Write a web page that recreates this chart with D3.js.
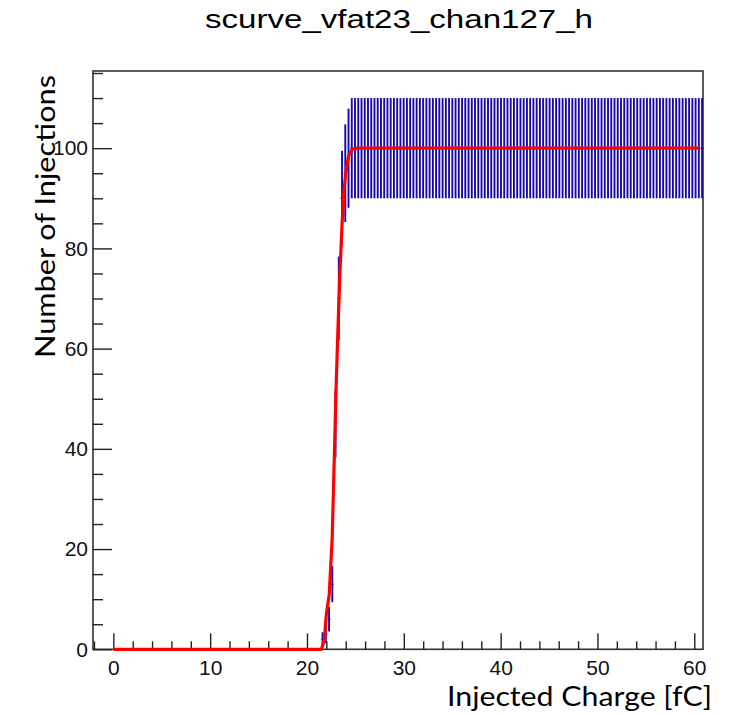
<!DOCTYPE html>
<html>
<head>
<meta charset="utf-8">
<script src="https://cdn.jsdelivr.net/npm/d3@7"></script>
<style>
    html, body { margin: 0; padding: 0; background: #fff; }
    svg { display: block; }
</style>
</head>
<body>
<div id="chart"></div>
<script>
// Histogram binning, in fC
const binStart = 0.17;
const binWidth = 0.335;

// Entries per bin
const counts = [
    0, 0, 0, 0, 0, 0, 0, 0, 0, 0, 0, 0, 0, 0, 0, 0,
    0, 0, 0, 0, 0, 0, 0, 0, 0, 0, 0, 0, 0, 0, 0, 0,
    0, 0, 0, 0, 0, 0, 0, 0, 0, 0, 0, 0, 0, 0, 0, 0,
    0, 0, 0, 0, 0, 0, 0, 0, 0, 0, 0, 0, 0, 0, 0, 0,
    2, 3, 6, 13, 45, 70, 90, 95, 98,
    100, 100, 100, 100, 100, 100, 100, 100, 100, 100, 100, 100, 100, 100, 100, 100, 100, 100, 100, 100,
    100, 100, 100, 100, 100, 100, 100, 100, 100, 100, 100, 100, 100, 100, 100, 100, 100, 100, 100, 100,
    100, 100, 100, 100, 100, 100, 100, 100, 100, 100, 100, 100, 100, 100, 100, 100, 100, 100, 100, 100,
    100, 100, 100, 100, 100, 100, 100, 100, 100, 100, 100, 100, 100, 100, 100, 100, 100, 100, 100, 100,
    100, 100, 100, 100, 100, 100, 100, 100, 100, 100, 100, 100, 100, 100, 100, 100, 100, 100, 100, 100,
    100, 100, 100, 100, 100, 100, 100, 100, 100
];

// Fitted s-curve (charge, injections)
const fitPoints = [
    [0, 0], [21.5, 0], [21.8, 2], [22.0, 7], [22.3, 11], [22.6, 22], [22.9, 44],
    [23.0, 52], [23.2, 64], [23.4, 75], [23.6, 84], [23.8, 91], [24.0, 95],
    [24.3, 98.5], [24.7, 99.8], [25.2, 100], [60.5, 100]
];

const xMajorTicks = [0, 10, 20, 30, 40, 50, 60];
const yMajorTicks = [0, 20, 40, 60, 80, 100];

const titleText = "scurve_vfat23_chan127_h";
const xTitle = "Injected Charge [fC]";
const yTitle = "Number of Injections";

/**
 * Build the plot
 */
function drawChart() {
    const width = 730;
    const height = 715;

    const svg = d3.select("#chart").append("svg")
        .attr("width", width)
        .attr("height", height);

    const x = d3.scaleLinear().domain([-2.1, 60.9]).range([93, 703]);
    const y = d3.scaleLinear().domain([0, 115.4]).range([649.3, 71]);

    const xMinorTicks = d3.range(-2, 61, 2).filter(v => !xMajorTicks.includes(v));
    const yMinorTicks = d3.range(5, 116, 5).filter(v => !yMajorTicks.includes(v));

    // Frame
    svg.append("rect")
        .attr("x", x.range()[0])
        .attr("y", y.range()[1])
        .attr("width", x.range()[1] - x.range()[0])
        .attr("height", y.range()[0] - y.range()[1])
        .attr("fill", "none")
        .attr("stroke", "#333")
        .attr("stroke-width", 1.6);

    // X axis (ticks pointing inward)
    const xMinorG = svg.append("g")
        .attr("transform", `translate(0,${y(0)})`)
        .call(d3.axisBottom(x).tickValues(xMinorTicks).tickSize(-8).tickFormat(""));
    const xMajorG = svg.append("g")
        .attr("transform", `translate(0,${y(0)})`)
        .call(d3.axisBottom(x).tickValues(xMajorTicks).tickSize(-16).tickPadding(11));

    // Y axis (ticks pointing inward)
    const yMinorG = svg.append("g")
        .attr("transform", `translate(${x.range()[0]},0)`)
        .call(d3.axisLeft(y).tickValues(yMinorTicks).tickSize(-10).tickFormat(""));
    const yMajorG = svg.append("g")
        .attr("transform", `translate(${x.range()[0]},0)`)
        .call(d3.axisLeft(y).tickValues(yMajorTicks).tickSize(-19).tickPadding(5));

    [xMinorG, xMajorG, yMinorG, yMajorG].forEach(g => {
        g.select(".domain").remove();
        g.selectAll(".tick line").attr("stroke", "#222").attr("stroke-width", 1.4);
        g.selectAll(".tick text")
            .attr("fill", "#111")
            .style("font-family", "'Liberation Sans', Arial, sans-serif")
            .style("font-size", "21px");
    });

    // Error bars
    const bins = counts.map((c, i) => ({ x: binStart + i * binWidth, c: c }))
        .filter(d => d.c > 0 && d.x <= x.domain()[1]);

    const errG = svg.append("g")
        .attr("stroke", "#1808a8")
        .attr("fill", "none");

    errG.selectAll("line.vbar")
        .data(bins)
        .enter()
        .append("line")
        .attr("class", "vbar")
        .attr("x1", d => x(d.x))
        .attr("x2", d => x(d.x))
        .attr("y1", d => y(d.c - Math.sqrt(d.c)))
        .attr("y2", d => y(Math.min(d.c + Math.sqrt(d.c), y.domain()[1])))
        .attr("stroke-width", 1.9);

    errG.selectAll("line.hbar")
        .data(bins)
        .enter()
        .append("line")
        .attr("class", "hbar")
        .attr("x1", d => x(d.x - binWidth / 2))
        .attr("x2", d => x(d.x + binWidth / 2))
        .attr("y1", d => y(d.c))
        .attr("y2", d => y(d.c))
        .attr("stroke-width", 1);

    // Fit curve
    const line = d3.line()
        .x(d => x(d[0]))
        .y(d => y(d[1]));

    svg.append("path")
        .datum(fitPoints)
        .attr("d", line)
        .attr("fill", "none")
        .attr("stroke", "#ff0000")
        .attr("stroke-width", 3.2)
        .attr("stroke-linejoin", "round");

    // Title
    svg.append("text")
        .attr("x", 399)
        .attr("y", 28)
        .attr("text-anchor", "middle")
        .attr("textLength", 388)
        .attr("lengthAdjust", "spacingAndGlyphs")
        .style("font-family", "'Liberation Sans', Arial, sans-serif")
        .style("font-size", "25px")
        .attr("fill", "#000")
        .text(titleText);

    // Axis titles
    svg.append("text")
        .attr("x", 447)
        .attr("y", 706)
        .attr("textLength", 265)
        .attr("lengthAdjust", "spacingAndGlyphs")
        .style("font-family", "Lato, 'Open Sans', sans-serif")
        .style("font-size", "27px")
        .attr("fill", "#000")
        .text(xTitle);

    svg.append("text")
        .attr("transform", "translate(55,216.5) rotate(-90)")
        .attr("text-anchor", "middle")
        .attr("textLength", 283)
        .attr("lengthAdjust", "spacingAndGlyphs")
        .style("font-family", "Lato, 'Open Sans', sans-serif")
        .style("font-size", "27px")
        .attr("fill", "#000")
        .text(yTitle);
}

drawChart();
</script>
</body>
</html>
